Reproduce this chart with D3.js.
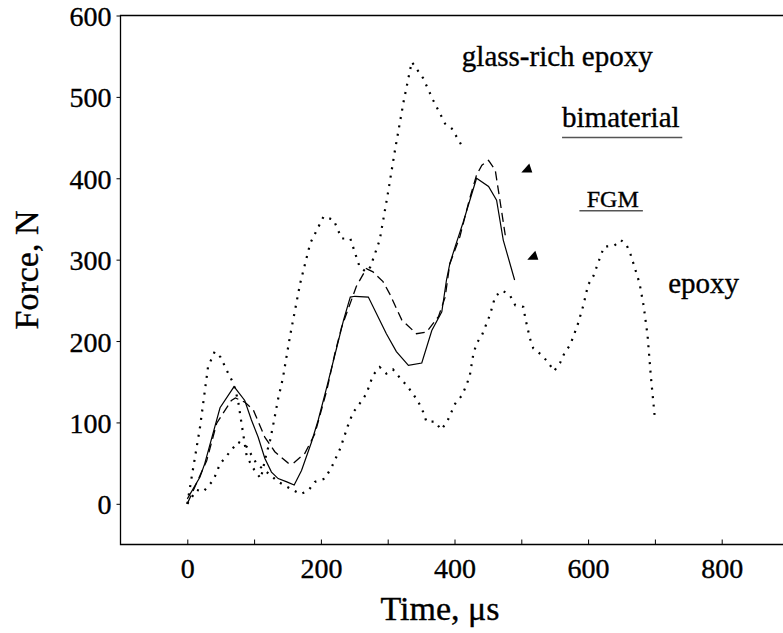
<!DOCTYPE html>
<html>
<head>
<meta charset="utf-8">
<script src="https://cdn.jsdelivr.net/npm/d3@7"></script>
<style>
  html, body { margin: 0; padding: 0; background: #fff; }
  svg { display: block; }
  svg text { font-family: "Liberation Serif", "Times New Roman", serif; fill: #000; stroke: #000; stroke-width: 0.35px; }
</style>
</head>
<body>
<svg id="chart" width="783" height="633"></svg>
<script>
// Impact force histories, Force (N) against Time (µs)
const glassTime  = [0, 8, 19, 31, 41, 50, 59, 69, 76, 80, 89, 100, 110, 118, 124, 130, 136, 143, 149, 154, 169, 184, 204, 219, 231, 244, 258, 268, 274, 288, 300, 311, 324, 336, 353, 368, 386, 396, 411];
const glassForce = [0, 40, 94, 168, 187, 180, 164, 148, 127, 105, 58, 42, 31, 60, 78, 103, 129, 154, 183, 207, 271, 320, 353, 349, 326, 326, 291, 285, 291, 324, 380, 435, 495, 543, 523, 496, 467, 461, 440];

const epoxyTime  = [0, 14, 24, 39, 49, 64, 76, 89, 96, 104, 116, 136, 169, 181, 191, 206, 216, 229, 240, 248, 258, 268, 278, 288, 298, 308, 318, 328, 338, 346, 353, 358, 371, 380, 389, 401, 411, 418, 423, 428, 433, 441, 453, 461, 472, 483, 491, 503, 506, 513, 518, 530, 540, 549, 558, 565, 573, 584, 593, 600, 608, 618, 624, 639, 649, 657, 663, 668, 677, 683, 689, 694, 700];
const epoxyForce = [0, 17, 15, 29, 49, 64, 76, 70, 60, 49, 41, 27, 12, 16, 27, 31, 45, 68, 95, 112, 123, 135, 158, 168, 160, 165, 155, 146, 135, 125, 113, 101, 101, 91, 101, 123, 133, 146, 158, 183, 197, 207, 232, 255, 262, 256, 244, 242, 228, 203, 191, 183, 174, 163, 173, 186, 195, 219, 244, 269, 280, 303, 316, 317, 324, 319, 308, 295, 271, 244, 207, 156, 105];

const fgmTime  = [0, 19, 26, 49, 70, 86, 96, 106, 116, 126, 136, 149, 160, 171, 186, 196, 209, 224, 234, 244, 251, 271, 298, 313, 331, 351, 366, 381, 388, 393, 401, 413, 433, 451, 463, 473, 490];
const fgmForce = [6, 33, 49, 118, 144, 127, 103, 82, 56, 39, 31, 27, 23, 41, 76, 103, 144, 193, 226, 254, 255, 254, 209, 187, 170, 173, 213, 236, 275, 295, 316, 346, 400, 390, 373, 324, 275];

const bimatTime  = [0, 29, 44, 66, 72, 86, 99, 116, 131, 151, 159, 176, 191, 209, 221, 231, 253, 268, 278, 293, 303, 321, 343, 358, 376, 386, 393, 408, 422, 433, 441, 451, 461, 468, 476];
const bimatForce = [0, 53, 99, 127, 130, 125, 115, 82, 64, 50, 50, 62, 86, 140, 185, 217, 267, 289, 285, 273, 258, 226, 209, 211, 230, 254, 295, 328, 373, 404, 416, 422, 410, 373, 330];

const xTicks = [0, 100, 200, 300, 400, 500, 600, 700, 800];
const xTickLabels = [0, 200, 400, 600, 800];
const yTicks = [0, 100, 200, 300, 400, 500, 600];

// arrow tips pointing at the two layered-specimen curves
const arrowTime  = [500, 509];
const arrowForce = [407, 300];

const serif = "'Liberation Serif', 'Times New Roman', serif";
const svg = d3.select("#chart");
const x = d3.scaleLinear([-100, 900], [120.5, 788.5]);
const y = d3.scaleLinear([-50, 600], [544.5, 15.5]);

const zip = (ts, fs) => ts.map((t, i) => [t, fs[i]]);
const line = d3.line().x(d => x(d[0])).y(d => y(d[1]));

// frame
svg.append("path")
  .attr("d", `M${x(900)},${y(600)}H${x(-100)}V${y(-50)}H${x(900)}`)
  .attr("fill", "none").attr("stroke", "#000").attr("stroke-width", 1.3);

// x axis: ticks every 100 pointing inward, labels every 200
const xAxis = d3.axisBottom(x).tickValues(xTicks).tickSize(-5).tickPadding(14)
  .tickFormat(d => xTickLabels.includes(d) ? d : "");
const gx = svg.append("g").attr("transform", `translate(0,${y(-50)})`).call(xAxis);
gx.attr("font-family", null);
gx.select(".domain").remove();
gx.selectAll("line").attr("stroke", "#000").attr("stroke-width", 1);
gx.selectAll("text").style("font-family", serif).style("font-size", "28px")
  .attr("dy", "0.71em");

// y axis
const yAxis = d3.axisLeft(y).tickValues(yTicks).tickSize(4).tickPadding(5);
const gy = svg.append("g").attr("transform", `translate(${x(-100)},0)`).call(yAxis);
gy.attr("font-family", null);
gy.select(".domain").remove();
gy.selectAll("line").attr("stroke", "#000").attr("stroke-width", 1);
gy.selectAll("text").style("font-family", serif).style("font-size", "28px")
  .attr("dy", "0.36em");

// axis titles
svg.append("text").attr("x", 440).attr("y", 620).attr("text-anchor", "middle")
  .style("font-size", "34px").text("Time, μs");
svg.append("text").attr("transform", "translate(38,270) rotate(-90)")
  .attr("text-anchor", "middle").style("font-size", "34px").text("Force, N");

// curves
const curves = [
  { data: zip(glassTime, glassForce), dash: "2,6.5", width: 2.2 },
  { data: zip(epoxyTime, epoxyForce), dash: "2,6.5", width: 2.2 },
  { data: zip(bimatTime, bimatForce), dash: "9,5", width: 1.3 },
  { data: zip(fgmTime, fgmForce), dash: null, width: 1.2 }
];
svg.append("g").selectAll("path").data(curves).join("path")
  .attr("d", d => line(d.data))
  .attr("fill", "none").attr("stroke", "#000")
  .attr("stroke-width", d => d.width)
  .attr("stroke-dasharray", d => d.dash);

// annotations
const ann = svg.append("g");
ann.append("text").attr("x", x(411)).attr("y", y(538)).style("font-size", "29px").text("glass-rich epoxy");
ann.append("text").attr("x", x(561)).attr("y", y(463)).style("font-size", "29px").text("bimaterial");
ann.append("line").attr("x1", x(561)).attr("x2", x(741)).attr("y1", y(450)).attr("y2", y(450))
  .attr("stroke", "#555").attr("stroke-width", 1.5);
ann.append("text").attr("x", x(598)).attr("y", y(365)).style("font-size", "24px").text("FGM");
ann.append("line").attr("x1", x(587)).attr("x2", x(682)).attr("y1", y(360)).attr("y2", y(360))
  .attr("stroke", "#555").attr("stroke-width", 1.5);
ann.append("text").attr("x", x(720)).attr("y", y(259)).style("font-size", "29px").text("epoxy");

// arrowheads
svg.append("g").selectAll("path").data(d3.zip(arrowTime, arrowForce)).join("path")
  .attr("d", "M0,0L8,-9L11,0Z")
  .attr("transform", d => `translate(${x(d[0])},${y(d[1])})`)
  .attr("fill", "#000");
</script>
</body>
</html>
